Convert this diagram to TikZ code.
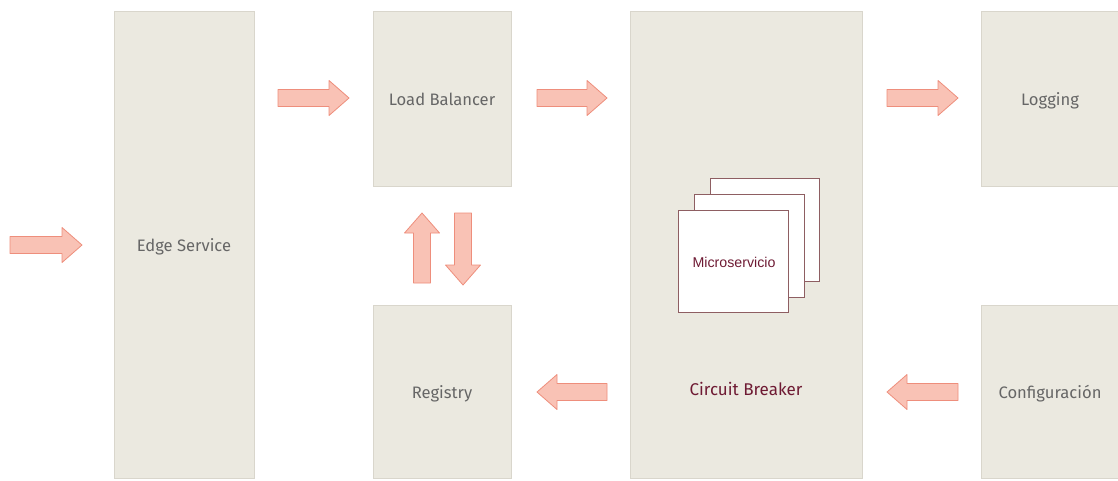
\documentclass[tikz,border=0pt]{standalone}
\usepackage{fontspec}
\setmainfont{Fira Sans}
\newfontfamily\arialfont{Liberation Sans}
\definecolor{panel}{HTML}{EBE9E0}
\definecolor{panelline}{HTML}{D9D6CC}
\definecolor{labelgray}{HTML}{666666}
\definecolor{arrowfill}{HTML}{F9C2B5}
\definecolor{arrowline}{HTML}{EE8E7C}
\definecolor{maroon}{HTML}{6E1A33}
\definecolor{cardline}{HTML}{8E5E62}
\tikzset{
  panelbox/.style={draw=panelline, fill=panel, line width=1pt},
  paneltext/.style={text=labelgray, font=\fontsize{16.6}{19}\selectfont,
    text height=1.4ex, text depth=0.3ex},
  blockarrow/.style={draw=arrowline, fill=arrowfill, line width=0.8pt, line join=round},
  card/.style={draw=cardline, fill=white, line width=1pt},
}
% right-pointing block arrow: \rarrow{x0}{x1}{y}
\newcommand{\rarrow}[3]{\draw[blockarrow] (#1,#3-8.5) -- (#2-20,#3-8.5) -- (#2-20,#3-17.5) -- (#2,#3) -- (#2-20,#3+17.5) -- (#2-20,#3+8.5) -- (#1,#3+8.5) -- cycle;}
% left-pointing block arrow: \larrow{x0}{x1}{y}, tip at x0
\newcommand{\larrow}[3]{\draw[blockarrow] (#2,#3-8.5) -- (#1+20,#3-8.5) -- (#1+20,#3-17.5) -- (#1,#3) -- (#1+20,#3+17.5) -- (#1+20,#3+8.5) -- (#2,#3+8.5) -- cycle;}
% vertical block arrow: \varrow{x}{tail y}{tip y}{sign}
\newcommand{\varrow}[4]{\draw[blockarrow] (#1-8.5,#2) -- (#1-8.5,#3-#4*20) -- (#1-17.5,#3-#4*20) -- (#1,#3) -- (#1+17.5,#3-#4*20) -- (#1+8.5,#3-#4*20) -- (#1+8.5,#2) -- cycle;}
\begin{document}
\begin{tikzpicture}[x=1pt,y=-1pt]
\useasboundingbox (0,0) rectangle (1118,480);
\fill[white] (0,0) rectangle (1118,480);

% panels
\draw[panelbox] (114,11) rectangle (254,478);
\draw[panelbox] (373,11) rectangle (511,186);
\draw[panelbox] (373,305) rectangle (511,478);
\draw[panelbox] (630,11) rectangle (862,478);
\draw[panelbox] (981,11) rectangle (1125,186);
\draw[panelbox] (981,305) rectangle (1125,478);

\node[paneltext] (edge) at (184,249) {Edge Service};
\node[paneltext] (lb) at (442,103) {Load Balancer};
\node[paneltext] (reg) at (442,396) {Registry};
\node[paneltext] (log) at (1050,103) {Logging};
\node[paneltext] (conf) at (1050,396) {Configuración};
\node[text=maroon, font=\fontsize{17}{19}\selectfont] (cb) at (746,389) {Circuit Breaker};

% stacked service instances
\draw[card] (710,178) rectangle (819,281);
\draw[card] (694,194) rectangle (804,297);
\draw[card] (678,210) rectangle (788,312);
\node[text=maroon, font=\arialfont\fontsize{14.2}{16}\selectfont] (ms) at (734,262) {Microservicio};

% flow arrows
\rarrow{10}{82}{245}
\rarrow{278}{349}{98}
\rarrow{537}{607}{98}
\rarrow{887}{958}{98}
\larrow{537}{607}{392}
\larrow{887}{958}{392}
\varrow{422}{283}{213}{-1}
\varrow{463}{213}{285}{1}
\end{tikzpicture}
\end{document}
